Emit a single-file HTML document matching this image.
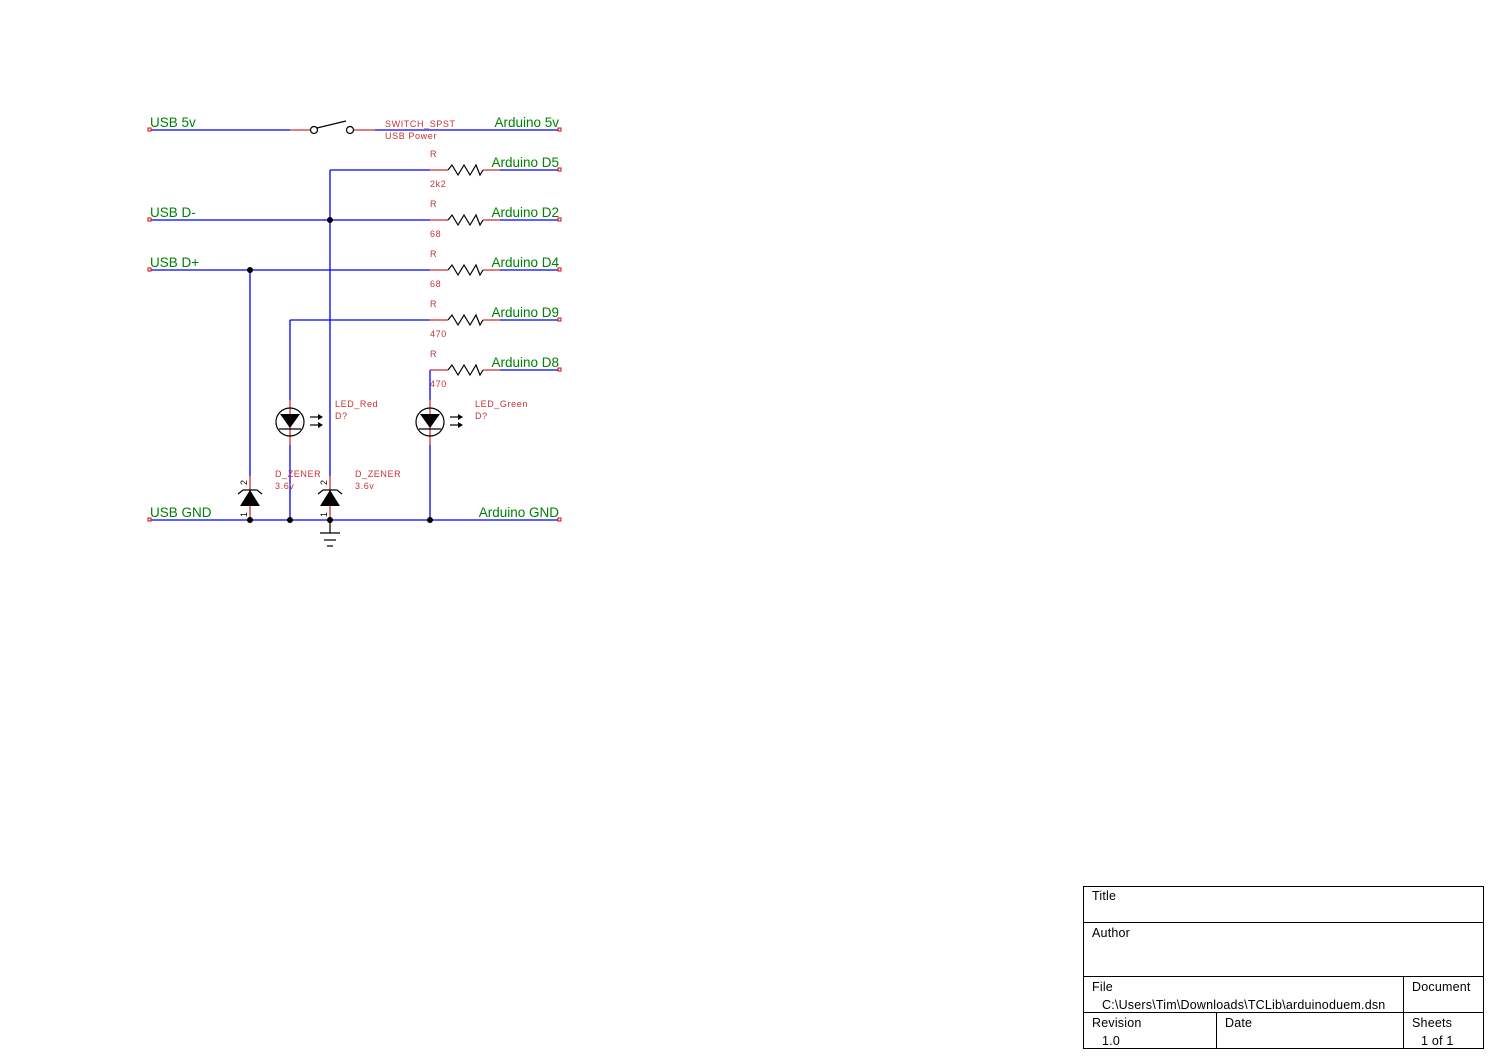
<!DOCTYPE html>
<html><head><style>
html,body{margin:0;padding:0;background:#fff;}
svg{display:block;}
text{font-family:"Liberation Sans",sans-serif;}
.g{fill:#008000;font-size:13.5px;}
.r{fill:#c83232;font-size:9px;letter-spacing:0.6px;}
.k{fill:#000;font-size:12.5px;letter-spacing:0.2px;}
</style></head><body>
<svg width="1495" height="1060" viewBox="0 0 1495 1060" xmlns="http://www.w3.org/2000/svg">
<g stroke="#0000ff" stroke-width="1.3" fill="none">
<line x1="150" y1="130" x2="290" y2="130"/><line x1="375" y1="130" x2="560" y2="130"/>
<line x1="330" y1="170" x2="430" y2="170"/><line x1="500" y1="170" x2="560" y2="170"/>
<line x1="150" y1="220" x2="430" y2="220"/><line x1="500" y1="220" x2="560" y2="220"/>
<line x1="150" y1="270" x2="430" y2="270"/><line x1="500" y1="270" x2="560" y2="270"/>
<line x1="290" y1="320" x2="430" y2="320"/><line x1="500" y1="320" x2="560" y2="320"/>
<line x1="500" y1="370" x2="560" y2="370"/>
<line x1="150" y1="520" x2="560" y2="520"/>
<line x1="330" y1="170" x2="330" y2="476"/>
<line x1="250" y1="270" x2="250" y2="476"/>
<line x1="290" y1="320" x2="290" y2="400"/><line x1="290" y1="445" x2="290" y2="520"/>
<line x1="430" y1="370" x2="430" y2="400"/><line x1="430" y1="445" x2="430" y2="520"/>
</g>
<g stroke="#c83232" stroke-width="1.3" fill="none">
<line x1="290" y1="130" x2="310" y2="130"/><line x1="354" y1="130" x2="375" y2="130"/>
<line x1="430" y1="170" x2="448" y2="170"/><line x1="483" y1="170" x2="500" y2="170"/>
<line x1="430" y1="220" x2="448" y2="220"/><line x1="483" y1="220" x2="500" y2="220"/>
<line x1="430" y1="270" x2="448" y2="270"/><line x1="483" y1="270" x2="500" y2="270"/>
<line x1="430" y1="320" x2="448" y2="320"/><line x1="483" y1="320" x2="500" y2="320"/>
<line x1="430" y1="370" x2="448" y2="370"/><line x1="483" y1="370" x2="500" y2="370"/>
<line x1="290" y1="400" x2="290" y2="445"/><line x1="430" y1="400" x2="430" y2="445"/>
<line x1="250" y1="476" x2="250" y2="520"/><line x1="330" y1="476" x2="330" y2="520"/>
</g>
<g stroke="#000" stroke-width="1.2" fill="none">
<circle cx="314" cy="130" r="3.5"/><circle cx="350" cy="130" r="3.5"/>
<line x1="317" y1="128" x2="346" y2="121"/>
<polyline points="448,170 452,165 458,175 464,165 470,175 476,165 480,175 483,170"/>
<polyline points="448,220 452,215 458,225 464,215 470,225 476,215 480,225 483,220"/>
<polyline points="448,270 452,265 458,275 464,265 470,275 476,265 480,275 483,270"/>
<polyline points="448,320 452,315 458,325 464,315 470,325 476,315 480,325 483,320"/>
<polyline points="448,370 452,365 458,375 464,365 470,375 476,365 480,375 483,370"/>
<circle cx="290" cy="422" r="14"/><circle cx="430" cy="422" r="14"/>
<line x1="279" y1="429" x2="301" y2="429"/><line x1="419" y1="429" x2="441" y2="429"/>
<polyline points="238,494 243,490 257,490 262,494"/>
<polyline points="318,494 323,490 337,490 342,494"/>
<line x1="320" y1="533" x2="340" y2="533"/><line x1="324" y1="540" x2="336" y2="540"/><line x1="327" y1="546" x2="333" y2="546"/>
<line x1="310" y1="417" x2="320" y2="417"/><line x1="310" y1="425" x2="320" y2="425"/>
<line x1="450" y1="417" x2="460" y2="417"/><line x1="450" y1="425" x2="460" y2="425"/>
</g>
<line x1="330" y1="520" x2="330" y2="533" stroke="#000" stroke-width="1.2"/>
<g fill="#000">
<polygon points="280,414 300,414 290,428"/><polygon points="420,414 440,414 430,428"/>
<polygon points="240,506 260,506 250,490"/><polygon points="320,506 340,506 330,490"/>
<polygon points="318,414 323,417 318,420"/><polygon points="318,422 323,425 318,428"/>
<polygon points="458,414 463,417 458,420"/><polygon points="458,422 463,425 458,428"/>
<circle cx="330" cy="220" r="3"/><circle cx="250" cy="270" r="3"/>
<circle cx="250" cy="520" r="3"/><circle cx="290" cy="520" r="3"/><circle cx="330" cy="520" r="3"/><circle cx="430" cy="520" r="3"/>
</g>
<g fill="#fff" stroke="#e00000" stroke-width="1">
<rect x="148" y="128" width="3" height="3"/><rect x="148" y="218" width="3" height="3"/><rect x="148" y="268" width="3" height="3"/><rect x="148" y="518" width="3" height="3"/>
<rect x="558" y="128" width="3" height="3"/><rect x="558" y="168" width="3" height="3"/><rect x="558" y="218" width="3" height="3"/><rect x="558" y="268" width="3" height="3"/><rect x="558" y="318" width="3" height="3"/><rect x="558" y="368" width="3" height="3"/><rect x="558" y="518" width="3" height="3"/>
</g>
<text class="g" x="150" y="127">USB 5v</text>
<text class="g" x="150" y="217">USB D-</text>
<text class="g" x="150" y="267">USB D+</text>
<text class="g" x="150" y="517">USB GND</text>
<text class="g" x="559" y="127" text-anchor="end">Arduino 5v</text>
<text class="g" x="559" y="167" text-anchor="end">Arduino D5</text>
<text class="g" x="559" y="217" text-anchor="end">Arduino D2</text>
<text class="g" x="559" y="267" text-anchor="end">Arduino D4</text>
<text class="g" x="559" y="317" text-anchor="end">Arduino D9</text>
<text class="g" x="559" y="367" text-anchor="end">Arduino D8</text>
<text class="g" x="559" y="517" text-anchor="end">Arduino GND</text>
<text class="r" x="385" y="127">SWITCH_SPST</text>
<text class="r" x="385" y="139">USB Power</text>
<text class="r" x="430" y="157">R</text><text class="r" x="430" y="187">2k2</text>
<text class="r" x="430" y="207">R</text><text class="r" x="430" y="237">68</text>
<text class="r" x="430" y="257">R</text><text class="r" x="430" y="287">68</text>
<text class="r" x="430" y="307">R</text><text class="r" x="430" y="337">470</text>
<text class="r" x="430" y="357">R</text><text class="r" x="430" y="387">470</text>
<text class="r" x="335" y="407">LED_Red</text><text class="r" x="335" y="419">D?</text>
<text class="r" x="475" y="407">LED_Green</text><text class="r" x="475" y="419">D?</text>
<text class="r" x="275" y="477">D_ZENER</text><text class="r" x="275" y="489">3.6v</text>
<text class="r" x="355" y="477">D_ZENER</text><text class="r" x="355" y="489">3.6v</text>
<g font-size="9" fill="#000" font-family="Liberation Sans,sans-serif">
<text transform="translate(247,485) rotate(-90)">2</text><text transform="translate(247,517) rotate(-90)">1</text>
<text transform="translate(327,485) rotate(-90)">2</text><text transform="translate(327,517) rotate(-90)">1</text>
</g>
<g stroke="#000" stroke-width="1" fill="none">
<rect x="1083.5" y="886.5" width="400" height="162"/>
<line x1="1083" y1="922.5" x2="1484" y2="922.5"/>
<line x1="1083" y1="976.5" x2="1484" y2="976.5"/>
<line x1="1083" y1="1012.5" x2="1484" y2="1012.5"/>
<line x1="1403.5" y1="976" x2="1403.5" y2="1048"/>
<line x1="1216.5" y1="1012" x2="1216.5" y2="1048"/>
</g>
<text class="k" x="1092" y="900">Title</text>
<text class="k" x="1092" y="937">Author</text>
<text class="k" x="1092" y="991">File</text>
<text class="k" x="1102" y="1009">C:\Users\Tim\Downloads\TCLib\arduinoduem.dsn</text>
<text class="k" x="1412" y="991">Document</text>
<text class="k" x="1092" y="1027">Revision</text>
<text class="k" x="1102" y="1045">1.0</text>
<text class="k" x="1225" y="1027">Date</text>
<text class="k" x="1412" y="1027">Sheets</text>
<text class="k" x="1421" y="1045">1 of 1</text>
</svg>
</body></html>
